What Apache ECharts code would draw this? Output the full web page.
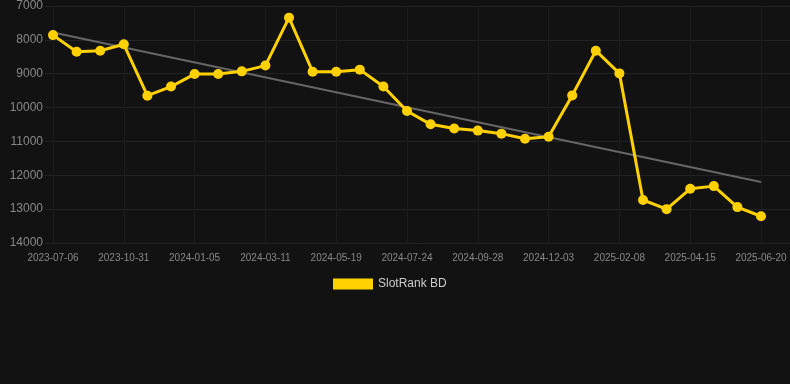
<!DOCTYPE html>
<html>
<head>
<meta charset="utf-8">
<script src="https://cdn.jsdelivr.net/npm/echarts@6/dist/echarts.min.js"></script>
<style>html,body{margin:0;padding:0;background:#121212;}#chart{width:790px;height:384px;}</style>
</head>
<body>
<div id="chart"></div>
<script>
var categories = [
  '2023-07-06','2023-08-14','2023-09-22','2023-10-31','2023-11-22','2023-12-14',
  '2024-01-05','2024-01-27','2024-02-18','2024-03-11','2024-04-03','2024-04-26',
  '2024-05-19','2024-06-09','2024-07-02','2024-07-24','2024-08-15','2024-09-06',
  '2024-09-28','2024-10-20','2024-11-11','2024-12-03','2024-12-25','2025-01-17',
  '2025-02-08','2025-03-02','2025-03-24','2025-04-15','2025-05-07','2025-05-29',
  '2025-06-20'
];
var rankValues = [
  7860, 8350, 8320, 8130, 9650, 9380,
  9010, 9010, 8930, 8760, 7345, 8940,
  8940, 8880, 9380, 10100, 10495, 10620,
  10680, 10770, 10920, 10860, 9640, 8320,
  8990, 12730, 13000, 12400, 12320, 12940,
  13210
];
var trendStart = 7780;
var trendEnd = 12200;
var yTicks = {min: 7000, max: 14000, interval: 1000};

var trendData = categories.map(function(c, i){
  if (i === 0) return trendStart;
  if (i === categories.length - 1) return trendEnd;
  return null;
});

var font = 'Arial, Liberation Sans, sans-serif';
var chart = echarts.init(document.getElementById('chart'), null, {renderer: 'canvas'});
chart.setOption({
  backgroundColor: '#121212',
  animation: false,
  grid: [
    {left: 53, right: 29, top: 6, bottom: 141},
    {left: 45, right: 0, top: 6, bottom: 141}
  ],
  legend: {
    top: 273,
    left: 328,
    data: [{name: 'SlotRank BD', icon: 'rect'}],
    itemWidth: 40, itemHeight: 11, itemGap: 5,
    textStyle: {color: '#cccccc', fontSize: 12, fontFamily: font}
  },
  xAxis: [
    {
      type: 'category',
      gridIndex: 0,
      data: categories,
      boundaryGap: false,
      axisLine: {show: false},
      axisTick: {show: false},
      axisLabel: {color: '#888888', fontSize: 10, interval: 2, margin: 10, fontFamily: font},
      splitLine: {show: true, interval: 2, lineStyle: {color: '#1c1c1c'}}
    },
    {
      type: 'value', gridIndex: 1, show: false, min: 0, max: 1
    }
  ],
  yAxis: [
    {
      type: 'value',
      gridIndex: 0,
      inverse: true,
      min: yTicks.min, max: yTicks.max, interval: yTicks.interval,
      axisLine: {show: false},
      axisTick: {show: false},
      axisLabel: {color: '#888888', fontSize: 12, margin: 10, fontFamily: font,
        formatter: function(v){ return String(v); }},
      splitLine: {show: false}
    },
    {
      type: 'value',
      gridIndex: 1,
      inverse: true,
      min: yTicks.min, max: yTicks.max, interval: yTicks.interval,
      axisLine: {show: false},
      axisTick: {show: false},
      axisLabel: {show: false},
      splitLine: {lineStyle: {color: '#232323'}}
    }
  ],
  series: [
    {
      name: 'SlotRank BD',
      type: 'line',
      data: rankValues,
      color: '#FFD100',
      lineStyle: {width: 3, color: '#FFD100'},
      itemStyle: {color: '#FFD100'},
      symbol: 'circle',
      symbolSize: 10,
      z: 3
    },
    {
      name: 'trend',
      type: 'line',
      data: trendData,
      connectNulls: true,
      symbol: 'none',
      lineStyle: {width: 2, color: '#666666'},
      z: 2
    }
  ]
});
</script>
</body>
</html>
